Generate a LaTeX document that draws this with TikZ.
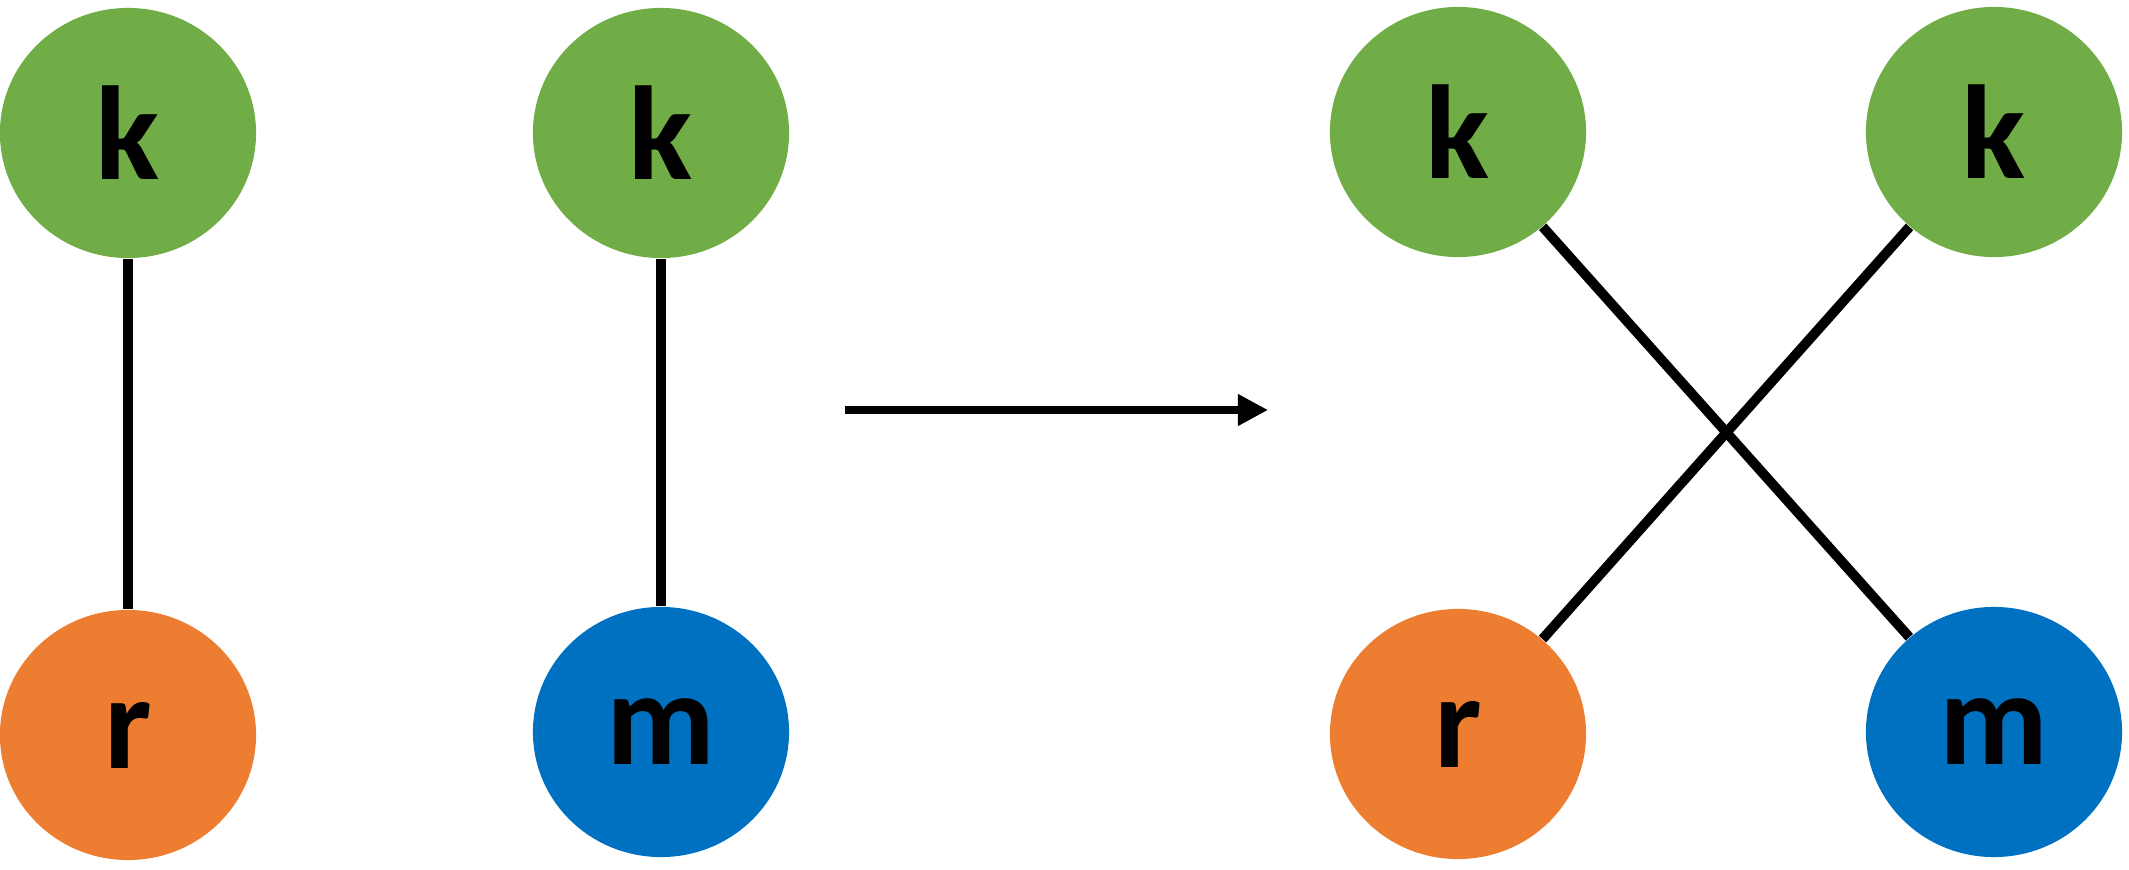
\documentclass[tikz,border=0pt]{standalone}
\usepackage{fontspec}
\setmainfont{Carlito}
\usetikzlibrary{shapes.geometric,arrows.meta}
\definecolor{cg}{HTML}{70AD47}
\definecolor{co}{HTML}{ED7D31}
\definecolor{cb}{HTML}{0070C0}
\begin{document}
\begin{tikzpicture}[x=0.01cm,y=-0.01cm,
  vtx/.style={ellipse,minimum width=2.56cm,minimum height=2.5cm,inner sep=0pt,font=\fontsize{38}{40}\selectfont\bfseries},
  edge/.style={line width=2.8pt}]
\useasboundingbox (0,0) rectangle (2129,870);
\node[vtx,fill=cg] (k1) at (128,133) {k};
\node[vtx,fill=co] (r1) at (128,735) {r};
\node[vtx,fill=cg] (k2) at (661,133) {k};
\node[vtx,fill=cb] (m2) at (661,732) {m};
\node[vtx,fill=cg] (k3) at (1458,132) {k};
\node[vtx,fill=cg] (k4) at (1994,132) {k};
\node[vtx,fill=co] (r3) at (1458,734) {r};
\node[vtx,fill=cb] (m4) at (1994,732) {m};
\coordinate (a1) at (845,410);
\coordinate (a2) at (1268,410);
\draw[edge] (k1) -- (r1);
\draw[edge] (k2) -- (m2);
\draw[edge] (k3) -- (m4);
\draw[edge] (k4) -- (r3);
\draw[line width=2pt,-{Triangle[length=0.3cm,width=0.3cm]}] (a1) -- (a2);
\end{tikzpicture}
\end{document}
